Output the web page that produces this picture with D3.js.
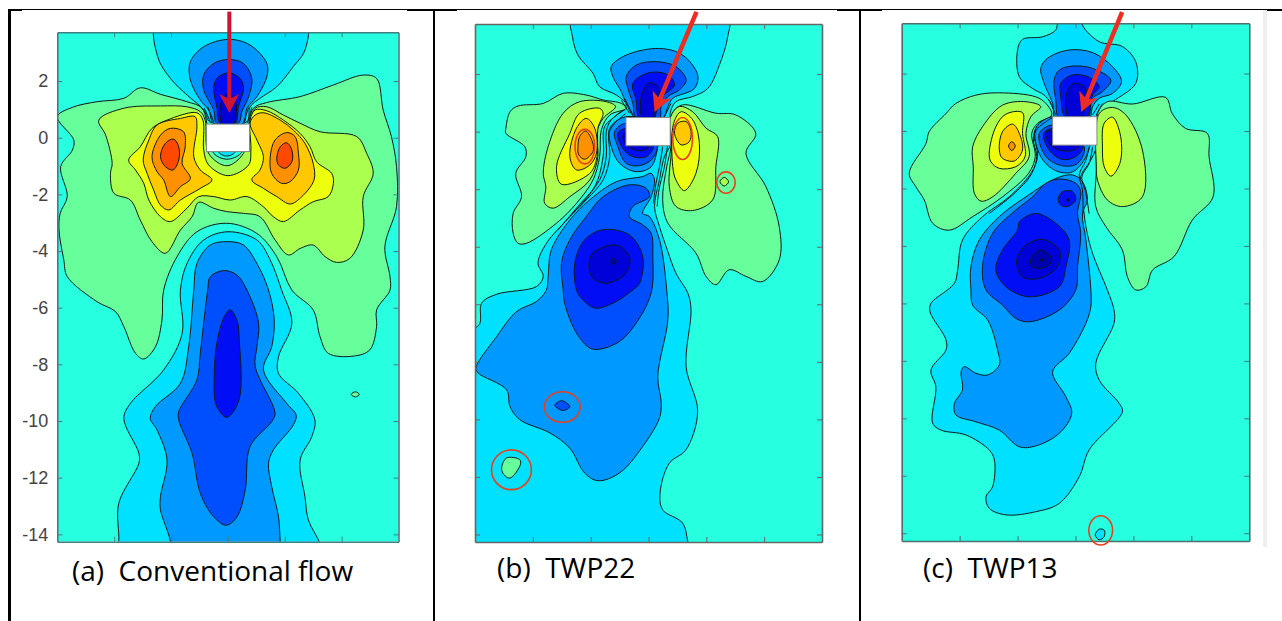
<!DOCTYPE html>
<html>
<head>
<meta charset="utf-8">
<script src="https://d3js.org/d3.v7.min.js"></script>
<style>
 html, body { margin: 0; padding: 0; background: white; }
 svg { display: block; }
 .tick text { font-family: "Liberation Sans", Arial, sans-serif; font-size: 18px; fill: #444; }
 .caption { font-family: "Open Sans", Lato, sans-serif; font-size: 28px; fill: #000; }
</style>
</head>
<body>
<svg width="1282" height="621"></svg>
<script>
// axis ticks, x and y are in the same units on all three panels
var xTicks = [-4, -2, 0, 2, 4];
var yTicks = [2, 0, -2, -4, -6, -8, -10, -12, -14];

// contour levels, low to high
var levels = [-7, -6, -5, -4, -3, -2, -1, 0, 1, 2, 3, 4, 5, 6];

// each entry: [level, outline as [x, y]], painted in order
var contoursA = [
 [1, [[-6,.74],[-5.47,1.07],[-4.6,1.27],[-3.66,1.39],[-3.08,1.76],[-2.37,1.53],[-1.44,1.27],[-.91,1.04],[-.68,.15],[-.5,-.55],[-.04,-.76],[.46,-.55],[.67,.15],[.9,1.04],[1.37,1.24],[2.54,1.45],[3.71,1.86],[4.76,2.21],[5.23,2.09],[5.46,.98],[5.75,.04],[5.93,-1.02],[5.93,-2.44],[5.52,-3.85],[5.7,-4.9],[5.7,-5.38],[5.23,-6.08],[5.23,-6.67],[4.99,-7.49],[4.41,-7.71],[3.53,-7.61],[3.24,-7.02],[3,-6.08],[2.25,-5.38],[1.72,-4.2],[1.02,-3.38],[-.04,-3.02],[-1.09,-3.32],[-1.79,-4.2],[-2.26,-5.38],[-2.32,-6.44],[-2.55,-7.38],[-2.96,-7.81],[-3.25,-7.61],[-3.66,-6.67],[-3.95,-6.14],[-4.6,-5.79],[-5.65,-4.9],[-5.77,-4.32],[-5.94,-3.26],[-5.9,-2.67],[-5.65,-2.08],[-5.88,-1.02],[-5.47,-.44],[-5.42,-.08]]],
 [2, [[-4.54,.62],[-3.66,1.04],[-2.37,1.12],[-1.44,1.09],[-.97,.92],[-.8,.62],[-.68,-.55],[-.04,-.99],[.55,-.55],[.81,.62],[.96,1.04],[1.37,1.09],[1.95,.8],[2.54,.51],[3.24,.21],[4.53,.04],[4.88,-.55],[5.11,-1.26],[4.76,-2.08],[4.76,-3.26],[4.29,-4.26],[3.82,-4.4],[3.42,-4.2],[3,-3.79],[2.54,-3.91],[2.13,-4.14],[1.66,-3.61],[1.13,-2.79],[.55,-2.67],[-.04,-2.61],[-.5,-2.49],[-1.03,-2.28],[-1.26,-2.79],[-1.67,-3.26],[-2.2,-4.08],[-2.67,-3.67],[-3.08,-2.91],[-3.43,-2.2],[-4.01,-1.96],[-4.13,-1.26],[-4.07,-.91],[-4.3,.09]]],
 [3, [[-3.49,-.79],[-3.08,-.32],[-2.67,.33],[-2.14,.62],[-1.09,.88],[-.88,.62],[-.85,-.44],[-.68,-.96],[0,-1.34],[.73,-.96],[.81,-.44],[.78,.62],[.96,.98],[1.37,.95],[1.95,.62],[2.54,.15],[2.89,-.32],[3.12,-.85],[3.65,-1.26],[3.71,-1.61],[3.53,-2.08],[3,-2.26],[2.54,-2.55],[1.95,-2.96],[1.6,-2.79],[1.25,-2.44],[.67,-2.08],[.08,-2.2],[-.5,-2.08],[-1.03,-2.08],[-1.44,-2.49],[-2.02,-2.96],[-2.37,-2.79],[-2.78,-2.2],[-2.96,-1.61],[-3.25,-1.14]]],
 [4, [[-2.98,-.79],[-2.78,-.08],[-2.49,.45],[-1.67,.68],[-1.15,.74],[-1.09,.39],[-1.2,-.67],[-.97,-1.14],[-.56,-1.49],[-.97,-1.79],[-1.67,-2.2],[-2.08,-2.55],[-2.37,-2.38],[-2.61,-1.85],[-2.84,-1.26]]],
 [4, [[.96,.8],[1.25,.88],[1.84,.62],[2.3,.27],[2.71,-.2],[3,-.91],[3.03,-1.49],[2.6,-2.08],[2.19,-2.34],[1.72,-2.08],[1.25,-1.79],[.84,-1.49],[1.13,-1.14],[1.25,-.67],[1.02,-.08],[.78,.51]]],
 [5, [[-2.67,-.67],[-2.37,.09],[-2.02,.33],[-1.56,.21],[-1.5,-.32],[-1.61,-.91],[-1.32,-1.44],[-1.67,-1.73],[-2.02,-2.08],[-2.26,-1.49],[-2.49,-1.2]]],
 [5, [[1.49,-.67],[1.66,-.08],[2.07,.18],[2.36,.04],[2.48,-.55],[2.48,-1.14],[2.19,-1.55],[1.89,-1.61],[1.54,-1.26]]],
 [6, [[-2.37,-.67],[-2.2,-.2],[-1.91,-.05],[-1.73,-.32],[-1.73,-.79],[-1.93,-1.14],[-2.2,-1.02]]],
 [6, [[1.72,-.73],[1.84,-.32],[2.07,-.18],[2.25,-.44],[2.25,-.85],[2.01,-1.08],[1.78,-.96]]],
 [-1, [[-.33,-.49],[-.04,-.65],[.26,-.49],[-.04,-.08]]],
 // wake above the block
 [-1, [[-2.47,4.15],[-2.47,2.86],[-2.02,2.09],[-1.44,1.51],[-.85,.98],[-.64,.56],[.67,.56],[.78,1.09],[1.13,1.39],[1.72,1.8],[2.3,2.51],[2.71,3.09],[2.71,4.15]]],
 [-2, [[.02,3.47],[.78,3.27],[1.37,2.62],[1.37,2.15],[1.02,1.45],[.67,1.04],[.55,.51],[-.5,.51],[-.68,.98],[-.97,1.33],[-1.32,2.04],[-1.32,2.68],[-.85,3.21]]],
 [-3, [[.02,2.76],[.55,2.62],[.84,2.09],[.73,1.45],[.49,.92],[.37,.51],[-.39,.51],[-.5,.98],[-.85,1.68],[-.85,2.21],[-.5,2.62]]],
 [-4, [[.02,2.29],[.43,2.09],[.55,1.74],[.37,1.09],[.26,.51],[-.27,.51],[-.39,1.09],[-.5,1.74],[-.39,2.09]]],
 [-5, [[.02,1.56],[.26,1.33],[.2,.51],[-.21,.51],[-.21,1.33]]],
 // long plume below
 [-1, [[0,-3.32],[1.02,-3.61],[1.49,-4.32],[1.89,-5.38],[2.25,-6.55],[1.78,-7.73],[1.78,-8.32],[2.48,-9.02],[3.06,-9.96],[2.95,-10.55],[2.54,-11.38],[2.71,-12.67],[2.83,-13.49],[3.24,-14.32],[3.36,-14.8],[-3.95,-14.8],[-3.84,-14.26],[-3.84,-12.91],[-3.13,-11.49],[-3.13,-11.14],[-3.66,-9.91],[-3.43,-9.38],[-2.26,-8.2],[-1.61,-6.91],[-1.67,-5.38],[-1.44,-4.44],[-.85,-3.61]]],
 [-2, [[0,-3.67],[.55,-3.79],[1.02,-4.44],[1.43,-5.38],[1.63,-6.44],[1.54,-7.38],[1.25,-8.2],[2.07,-9.38],[2.4,-9.79],[2.3,-10.14],[1.6,-11.02],[1.43,-11.49],[1.54,-12.31],[1.78,-13.38],[1.84,-14.26],[1.89,-14.9],[-2.02,-14.9],[-2.02,-14.26],[-2.37,-13.14],[-2.37,-12.67],[-2.14,-11.38],[-2.49,-10.32],[-2.73,-9.91],[-2.55,-9.49],[-1.67,-8.67],[-1.38,-7.38],[-1.2,-5.38],[-1.09,-4.44],[-.62,-3.79]]],
 [-3, [[-.15,-4.69],[.32,-4.85],[.67,-5.38],[1.08,-6.55],[1.02,-7.38],[.96,-8.08],[1.66,-9.73],[1.54,-10.02],[.78,-10.9],[.61,-12.43],[.32,-13.38],[-.06,-13.68],[-.5,-13.38],[-.97,-12.55],[-1.26,-11.14],[-1.73,-9.96],[-1.73,-9.67],[-1.09,-8.55],[-.97,-7.61],[-.71,-5.38],[-.62,-4.91]]],
 [-4, [[.08,-6.08],[.32,-6.44],[.4,-7.14],[.39,-9.26],[-.04,-9.87],[-.41,-9.44],[-.48,-8.44],[-.39,-7.26],[-.13,-6.32]]],
 [1, [[4.34,-9.06],[4.48,-8.97],[4.62,-9.06],[4.48,-9.15]]]
];

var contoursB = [
 [-1, [[-2.63,3.99],[-2.63,3.3],[-2.44,2.66],[-1.92,2.03],[-1.69,1.56],[-1.11,1.27],[-.77,.93],[-1.17,.52],[-1.52,.17],[-1.57,-.87],[-1.86,-1.91],[-2.72,-2.95],[-3.53,-3.88],[-3.82,-4.57],[-3.64,-5.03],[-3.87,-5.38],[-5.25,-5.65],[-5.77,-5.96],[-5.83,-6.66],[-6.11,-7],[-6.2,-15],[1.53,-15],[1.36,-14.24],[1.18,-13.6],[.49,-13.14],[.4,-12.56],[.72,-11.52],[1.3,-11.05],[1.7,-9.72],[1.3,-8.16],[1.47,-6.19],[1.36,-5.61],[.95,-4.92],[.61,-3.99],[.38,-3.3],[.21,-2.6],[.38,-1.68],[.55,-.87],[.78,-.41],[.75,.64],[.95,1.04],[1.53,1.22],[2.05,1.5],[2.45,2.31],[2.74,3.3],[2.74,3.99]]],
 // left lobe
 [1, [[-4.93,.12],[-4.79,.69],[-4.51,.89],[-3.64,.98],[-2.95,1.33],[-2.15,1.27],[-1.57,1.1],[-.94,.98],[-.77,.81],[-1.34,.58],[-1.63,.06],[-1.69,-.87],[-1.92,-1.68],[-2.49,-2.49],[-3.18,-3.18],[-4.22,-3.88],[-4.51,-3.88],[-4.68,-3.53],[-4.68,-2.84],[-4.39,-2.26],[-4.59,-1.45],[-4.24,-.87],[-4.28,-.52],[-4.93,-.06]]],
 [2, [[-3.64,-1.45],[-3.47,-.52],[-2.95,.64],[-2.38,1.04],[-1.46,1.04],[-1.14,.87],[-1.57,.46],[-1.8,-.06],[-1.75,-.87],[-2.03,-1.68],[-2.72,-2.26],[-3.3,-2.66],[-3.59,-2.49],[-3.55,-1.91]]],
 [3, [[-3.18,-1.22],[-2.72,-.06],[-2.38,.64],[-1.69,.81],[-1.57,.64],[-1.75,.12],[-1.78,-.87],[-2.03,-1.45],[-3.01,-1.83]]],
 [4, [[-2.72,-.87],[-2.49,.12],[-2.15,.46],[-1.86,.12],[-1.8,-.75],[-2.03,-1.16],[-2.49,-1.33]]],
 [5, [[-2.44,-.52],[-2.38,-.17],[-2.17,.02],[-1.94,-.35],[-1.92,-.69],[-2.21,-.96],[-2.41,-.81]]],
 // right lobe
 [1, [[.67,-3.18],[.49,-2.37],[.63,-1.22],[.78,-.52],[.82,.64],[1.18,.93],[2.33,.64],[3.02,.58],[3.71,-.06],[3.37,-.75],[4.06,-1.91],[4.52,-3.3],[4.52,-4.46],[3.94,-5.21],[3.37,-5.03],[2.79,-4.8],[2.33,-5.32],[1.99,-5.03],[1.64,-4.22]]],
 [2, [[.72,-1.91],[.8,-.52],[.77,.52],[1.07,.87],[1.53,.69],[1.99,.12],[2.39,-.17],[2.33,-1.22],[2.22,-2.37],[1.53,-2.74],[.95,-2.6]]],
 [3, [[.84,-1.22],[.87,.29],[1.13,.69],[1.53,.41],[1.76,-.41],[1.64,-1.45],[1.24,-2.05],[.95,-1.68]]],
 [4, [[.9,-.06],[1.01,.29],[1.3,.35],[1.47,0],[1.41,-.35],[1.13,-.46]]],
 [2, [[2.47,-1.74],[2.62,-1.59],[2.77,-1.74],[2.62,-1.89]]],
 // above the block
 [-2, [[.38,2.89],[1.18,2.66],[1.7,1.97],[1.59,1.5],[.84,1.16],[.67,.87],[.49,.46],[-.43,.46],[-.77,.98],[-.94,1.39],[-1.23,1.91],[-1.29,2.26],[-.77,2.66]]],
 [-3, [[.26,2.43],[.95,2.26],[1.3,1.79],[1.07,1.45],[.67,1.22],[.44,.87],[.38,.46],[-.43,.46],[-.54,.98],[-.71,1.5],[-.77,1.91],[-.43,2.31]]],
 [-4, [[.03,2.05],[.67,1.97],[.9,1.62],[.49,1.22],[.26,.64],[.2,.46],[-.31,.46],[-.43,1.1],[-.54,1.68]]],
 [-5, [[.03,1.7],[.38,1.5],[.26,1.1],[.15,.46],[-.2,.46],[-.25,1.22]]],
 // behind the block
 [-2, [[-.77,.52],[-1.34,.12],[-1.29,-.52],[-1,-1.1],[-.43,-1.39],[.09,-1.22],[.32,-.52],[.38,.17]]],
 [-3, [[-.77,.29],[-1.17,0],[-1.06,-.52],[-.77,-1.1],[-.31,-1.18],[.15,-.93],[.29,-.41]]],
 [-4, [[-.77,.12],[-1.06,-.06],[-.89,-.58],[-.54,-.87],[-.08,-.87],[.17,-.52],[-.08,-.06]]],
 [-5, [[-.77,0],[-.89,-.17],[-.71,-.52],[-.37,-.66],[-.02,-.58],[-.08,-.17]]],
 // lower plume
 [-2, [[-.2,-1.56],[-1.11,-1.74],[-2.03,-2.37],[-2.72,-3.07],[-3.36,-4.11],[-3.47,-5.03],[-3.53,-5.5],[-3.87,-5.9],[-4.56,-6.25],[-5.25,-7.12],[-5.97,-8.22],[-5.89,-8.39],[-4.91,-8.97],[-4.79,-9.55],[-4.45,-10.01],[-3.41,-10.47],[-2.72,-11],[-2.21,-11.86],[-1.75,-12.13],[-1,-11.86],[-.2,-10.94],[.38,-9.95],[.44,-9.43],[.32,-8.51],[.67,-6.54],[.63,-5.5],[.38,-3.76],[.03,-2.95],[-.2,-2.84],[.09,-2.26],[.21,-1.68],[.09,-1.45]]],
 [-3, [[-2.15,-2.95],[-1.57,-2.26],[-.66,-1.85],[-.08,-1.97],[.03,-2.26],[-.54,-2.6],[-.66,-2.95],[-.2,-3.24],[.09,-3.53],[.15,-4.34],[.09,-5.61],[-.43,-6.66],[-1,-7.29],[-1.69,-7.56],[-2.03,-7.52],[-2.49,-7],[-2.9,-5.96],[-2.95,-5.5],[-3.01,-4.57],[-2.72,-3.76]]],
 [-4, [[-2.55,-4.57],[-2.21,-3.76],[-1.57,-3.41],[-.66,-3.59],[-.2,-4.34],[-.31,-5.27],[-.54,-5.5],[-1.23,-5.96],[-1.86,-6.13],[-2.32,-5.79],[-2.49,-5.5]]],
 [-5, [[-2.06,-4.69],[-1.92,-4.22],[-1.11,-3.94],[-.66,-4.34],[-.77,-4.92],[-1.46,-5.27],[-1.92,-5.09]]],
 [-6, [[-1.33,-4.51],[-1.21,-4.41],[-1.09,-4.51],[-1.21,-4.61]]],
 [-3, [[-3.24,-9.51],[-3.01,-9.35],[-2.72,-9.55],[-2.95,-9.69]]],
 [1, [[-5.08,-11.69],[-4.91,-11.34],[-4.45,-11.4],[-4.43,-11.57],[-4.79,-12.04],[-5,-11.92]]]
];

var contoursC = [
 [-1, [[-.56,3.98],[-.68,3.52],[-1.14,3.28],[-1.83,3.19],[-2,2.82],[-1.94,1.89],[-1.48,1.48],[-1.08,1.25],[-.85,.96],[-.74,.56],[-1.25,.27],[-1.43,-.08],[-1.31,-.89],[-1.54,-1.47],[-2.29,-2.29],[-3.21,-2.98],[-3.9,-3.79],[-4.07,-4.84],[-4.18,-5.3],[-4.99,-6],[-5.02,-6.29],[-4.47,-7.27],[-4.47,-7.62],[-4.99,-8.32],[-4.82,-8.9],[-4.93,-10.17],[-4.64,-10.41],[-3.78,-10.58],[-2.98,-11.1],[-2.8,-11.45],[-2.86,-12.38],[-3.09,-12.73],[-2.98,-13.13],[-2.4,-13.36],[-1.37,-13.25],[-.56,-12.96],[.13,-12.03],[.47,-11.1],[1.62,-9.77],[1.51,-9.48],[.82,-8.67],[.7,-8.09],[1.33,-6.69],[1.33,-6.23],[1.1,-5.53],[.59,-4.26],[.36,-3.33],[.24,-2.29],[.18,-1.59],[.53,-1.01],[.76,-.43],[.76,.61],[1.28,1.02],[2.08,1.66],[2.08,2.41],[1.62,2.94],[.82,3.11],[.24,3.69],[.24,3.98]]],
 // left lobe
 [1, [[-5.74,-1.47],[-5.16,-.43],[-5.05,-.02],[-4.47,.61],[-4.13,.96],[-3.44,1.25],[-2.63,1.33],[-1.37,1.19],[-1.02,.96],[-.82,.56],[-1.31,.27],[-1.51,-.08],[-1.39,-.89],[-1.62,-1.47],[-2.52,-2.29],[-3.55,-2.98],[-4.36,-3.45],[-4.93,-3.21],[-5.22,-2.4],[-5.51,-1.94]]],
 [2, [[-3.55,-.55],[-3.21,.15],[-2.52,.9],[-1.71,1.02],[-1.2,.85],[-1.54,.5],[-1.71,-.08],[-1.6,-.89],[-2.06,-1.47],[-2.86,-2.29],[-3.26,-2.44],[-3.49,-2.17],[-3.53,-1.24]]],
 [3, [[-2.98,-.78],[-2.75,.15],[-2.4,.59],[-1.83,.64],[-1.83,-.08],[-1.74,-.89],[-2.06,-1.24],[-2.63,-1.3],[-2.92,-1.07]]],
 [4, [[-2.63,-.66],[-2.52,-.02],[-2.17,.24],[-1.94,-.08],[-1.83,-.66],[-2.11,-1.04],[-2.52,-.95]]],
 [5, [[-2.31,-.52],[-2.2,-.37],[-2.08,-.52],[-2.2,-.68]]],
 // right lobe
 [1, [[.72,-1.36],[.76,.61],[1.1,1.02],[1.97,.94],[3.11,1.17],[3.34,.61],[3.8,.09],[4.55,-.08],[4.61,-.89],[4.75,-2.29],[4.03,-3.1],[3.4,-4.37],[2.66,-4.84],[2.43,-5.42],[2.08,-5.53],[1.79,-5.07],[1.62,-4.14],[1.05,-3.33],[.7,-2.63]]],
 [2, [[.72,-1.24],[.82,.61],[1.28,.82],[1.74,.56],[2.31,-.66],[2.31,-2.29],[1.62,-2.63],[1.1,-2.4],[.76,-1.71]]],
 [3, [[.93,-.55],[.99,.27],[1.28,.48],[1.56,-.2],[1.53,-1.13],[1.22,-1.57],[.99,-1.24]]],
 // above the block
 [-2, [[-.22,2.82],[.59,2.73],[1.28,2.24],[1.59,1.72],[1.28,1.31],[.82,1.14],[.59,.85],[.47,.44],[-.68,.44],[-.79,.96],[-1.08,1.66],[-1.2,2.18],[-.97,2.53]]],
 [-3, [[-.1,2.26],[.59,2.18],[1.22,1.77],[.93,1.37],[.59,1.14],[.41,.44],[-.56,.44],[-.68,1.08],[-.74,1.77],[-.56,2.12]]],
 [-4, [[-.1,1.95],[.47,1.87],[.82,1.54],[.59,1.25],[.36,.44],[-.33,.44],[-.51,1.19],[-.51,1.66]]],
 [-5, [[-.05,1.66],[.36,1.48],[.36,1.08],[.18,.44],[-.22,.44],[-.31,1.31]]],
 // behind the block
 [-2, [[-.74,.5],[-1.37,.09],[-1.2,-.89],[-.68,-1.38],[-.1,-1.42],[.36,-.89],[.47,-.31]]],
 [-3, [[-.74,.21],[-1.25,-.08],[-1.02,-.89],[-.45,-1.21],[.07,-1.13],[.3,-.55]]],
 [-4, [[-.74,.09],[-1.1,-.08],[-.91,-.66],[-.45,-.99],[.01,-.89],[.26,-.5]]],
 [-5, [[-.74,-.02],[-1.02,-.02],[-.91,-.43],[-.56,-.66],[-.1,-.68],[.13,-.5]]],
 // lower plume
 [-2, [[-.68,-1.65],[-1.71,-2.29],[-2.63,-2.98],[-3.32,-3.79],[-3.61,-4.72],[-3.61,-5.53],[-3.55,-6.06],[-3.03,-6.58],[-2.69,-7.62],[-2.63,-8.14],[-3.03,-8.49],[-3.44,-8.43],[-3.84,-8.2],[-3.95,-8.38],[-3.9,-9.01],[-4.18,-9.48],[-4.13,-9.88],[-3.44,-10.12],[-2.63,-10.41],[-1.94,-10.99],[-1.37,-10.96],[-.56,-10.52],[-.13,-9.83],[-.33,-9.25],[-.79,-8.38],[-.22,-7.74],[.36,-6.69],[.53,-6.11],[.53,-5.53],[.36,-3.79],[.24,-2.87],[.41,-2.4],[.24,-1.76],[-.1,-1.53]]],
 [-3, [[-.56,-1.67],[.01,-1.82],[.18,-2.11],[.07,-2.87],[.18,-3.56],[.07,-4.72],[.01,-5.53],[-.56,-6.23],[-1.6,-6.64],[-2.06,-6.52],[-2.52,-6.06],[-3.09,-5.53],[-3.21,-4.72],[-2.86,-3.56],[-2.06,-2.75],[-1.48,-2.29],[-1.02,-1.82]]],
 [-4, [[-1.94,-3.16],[-1.37,-2.87],[-.68,-3.21],[-.22,-3.79],[-.33,-4.72],[-.56,-5.42],[-1.6,-5.77],[-2.4,-5.42],[-2.75,-4.84],[-2.52,-4.14],[-2,-3.45]]],
 [-5, [[-2.03,-4.49],[-1.71,-3.97],[-1.14,-3.77],[-.56,-4.14],[-.62,-4.72],[-1.25,-5.13],[-1.83,-5.07]]],
 [-6, [[-1.56,-4.49],[-1.2,-4.14],[-.82,-4.43],[-.91,-4.66],[-1.25,-4.78],[-1.48,-4.72]]],
 [-7, [[-1.21,-4.49],[-1.16,-4.44],[-1.11,-4.49],[-1.16,-4.54]]],
 [-4, [[-.6,-2.37],[-.45,-2.11],[-.1,-2.11],[.01,-2.4],[-.28,-2.63],[-.51,-2.58]]],
 [-7, [[-.3,-2.4],[-.25,-2.35],[-.2,-2.4],[-.25,-2.45]]],
 [-1, [[.68,-14.06],[.82,-13.86],[.99,-13.89],[.99,-14.12],[.82,-14.23]]]
];

// tightly packed open isolines beside the block and in the neck
var isolinesA = [
 [[-.83,1.04],[-.62,.56]], [[-.71,1.09],[-.5,.56]],
 [[.84,1.07],[.69,.53]], [[.73,1.07],[.55,.53]]
];
var isolinesB = [
 [[-.83,.75],[-1.29,.41],[-1.46,0],[-1.46,-.87],[-1.69,-1.68],[-2.44,-2.6],[-3.13,-3.41]],
 [[-.77,.64],[-1.17,.29],[-1.37,-.06],[-1.34,-.87],[-1.57,-1.68],[-2.15,-2.37],[-2.72,-2.95]],
 [[.67,-.41],[.55,-1.22],[.36,-2.03],[.3,-2.6]],
 [[.49,-.52],[.38,-1.22],[.26,-1.79],[.17,-2.49]],
 [[-.94,1.1],[-.66,.64]], [[-.83,1.16],[-.54,.58]], [[.78,.98],[.55,.52]]
];
var isolinesC = [
 [[-.79,.47],[-1.31,.09],[-1.46,-.26],[-1.34,-.89],[-1.54,-1.53],[-2.11,-2.17],[-2.98,-2.87]],
 [[.59,-.55],[.47,-1.13],[.22,-1.59],[.36,-2.17],[.47,-2.87]],
 [[.47,-.55],[.36,-1.01],[.13,-1.53],[.24,-2.05],[.26,-2.87]],
 [[-.91,1.08],[-.68,.56]], [[.82,.94],[.59,.56]], [[.93,.96],[.72,.56]]
];

// block in the flow: [x0, x1, y0, y1]
var blockA = [-.75, .76, -.49, .48];
var blockB = [-.78, .75, -.49, .49];
var blockC = [-.79, .74, -.49, .5];

// red arrows: [x from, y from, x tip, y tip]
var arrowA = [.05, 4.45, .05, .87];
var arrowB = [1.66, 4.16, .21, .68];
var arrowC = [1.61, 4.14, .2, .66];

// red marks round the spots: [cx, cy, rx, ry]
var ringsB = [[-2.2,-.52,.34,.6], [1.18,-.24,.34,.73], [2.68,-1.77,.32,.37], [-2.98,-9.57,.62,.53], [-4.74,-11.75,.69,.69]];
var ringsC = [[.87,-13.9,.41,.51]];

var captions = ["(a)  Conventional flow", "(b)  TWP22", "(c)  TWP13"];

var color = d3.scaleOrdinal()
 .domain(levels)
 .range(["#00007a", "#0000b0", "#0000d8", "#0510f5", "#0050ff", "#0099ff", "#00e0ff", "#26ffe0", "#66ff9c", "#aaff50", "#eeff10", "#ffc800", "#ff9000", "#ff4800"]);

var svg = d3.select("svg");

// the table behind the figures
var defs = svg.append("defs");
defs.append("filter").attr("id", "soft").append("feGaussianBlur").attr("stdDeviation", 0.5);

var table = svg.append("g");
table.append("rect").attr("x", 8).attr("y", 9).attr("width", 1274).attr("height", 2).attr("fill", "black");
[[8, 3], [433, 2], [859, 2]].forEach(function(b) {
 table.append("rect").attr("x", b[0]).attr("y", 9).attr("width", b[1]).attr("height", 612).attr("fill", "black");
});
// the pasted pictures cover most of the top rule
[[22, 385], [457, 380], [882, 381]].forEach(function(b) {
 table.append("rect").attr("x", b[0]).attr("y", 10).attr("width", b[1]).attr("height", 8).attr("fill", "white");
});
table.append("rect").attr("x", 1263).attr("y", 10).attr("width", 4).attr("height", 537).attr("fill", "#efefef");

var line = d3.line().curve(d3.curveCatmullRomClosed.alpha(0.5));
var openLine = d3.line().curve(d3.curveCatmullRom.alpha(0.5));

function drawPanel(id, box, contours, isolines, block, arrow, rings, labelled, arrowColor, arrowWidth, frameColor) {
 var x = d3.scaleLinear().domain([-6, 6]).range([box.left, box.right]);
 var y = d3.scaleLinear().domain([box.yTop, box.yBottom]).range([box.top, box.bottom]);

 defs.append("clipPath").attr("id", "clip" + id).append("rect")
  .attr("x", box.left).attr("y", box.top)
  .attr("width", box.right - box.left).attr("height", box.bottom - box.top);

 var plot = svg.append("g").attr("clip-path", "url(#clip" + id + ")").append("g").attr("filter", "url(#soft)");

 plot.append("rect")
  .attr("x", box.left).attr("y", box.top)
  .attr("width", box.right - box.left).attr("height", box.bottom - box.top)
  .attr("fill", color(0));

 plot.selectAll("path.band")
  .data(contours)
  .enter().append("path")
  .attr("class", "band")
  .attr("d", function(d) { return line(d[1].map(function(p) { return [x(p[0]), y(p[1])]; })); })
  .attr("fill", function(d) { return color(d[0]); })
  .attr("stroke", "#0a1a1a")
  .attr("stroke-width", 1);

 plot.selectAll("path.iso")
  .data(isolines)
  .enter().append("path")
  .attr("class", "iso")
  .attr("d", function(d) { return openLine(d.map(function(p) { return [x(p[0]), y(p[1])]; })); })
  .attr("fill", "none")
  .attr("stroke", "#0a1a1a")
  .attr("stroke-width", 1);

 // axes on all four sides, ticks pointing in
 var sides = [
  [d3.axisLeft(y).tickValues(yTicks), box.left, 0, labelled],
  [d3.axisRight(y).tickValues(yTicks), box.right, 0, false],
  [d3.axisBottom(x).tickValues(xTicks), 0, box.bottom, false],
  [d3.axisTop(x).tickValues(xTicks), 0, box.top, false]
 ];
 sides.forEach(function(s) {
  var g = svg.append("g")
   .attr("transform", "translate(" + s[1] + "," + s[2] + ")")
   .call(s[0].tickSizeInner(-5).tickSizeOuter(0).tickPadding(9).tickFormat(function(d) { return String(d); }));
  g.select(".domain").attr("stroke", frameColor).attr("stroke-width", 1.6);
  g.selectAll(".tick line").attr("stroke", frameColor);
  if (!s[3]) g.selectAll(".tick text").remove();
 });

 // white block
 svg.append("rect")
  .attr("x", x(block[0])).attr("y", y(block[3]))
  .attr("width", x(block[1]) - x(block[0])).attr("height", y(block[2]) - y(block[3]))
  .attr("fill", "white").attr("stroke", "#888").attr("stroke-width", 1);

 // arrow shaft and notched head
 var x0 = x(arrow[0]), y0 = y(arrow[1]), x1 = x(arrow[2]), y1 = y(arrow[3]);
 var a = Math.atan2(y1 - y0, x1 - x0);
 var ux = Math.cos(a), uy = Math.sin(a);
 svg.append("line")
  .attr("x1", x0).attr("y1", y0)
  .attr("x2", x1 - ux * 12).attr("y2", y1 - uy * 12)
  .attr("stroke", arrowColor).attr("stroke-width", arrowWidth);
 var head = [
  [x1, y1],
  [x1 - ux * 19 - uy * 10, y1 - uy * 19 + ux * 10],
  [x1 - ux * 14, y1 - uy * 14],
  [x1 - ux * 19 + uy * 10, y1 - uy * 19 - ux * 10]
 ];
 svg.append("polygon")
  .attr("points", head.join(" "))
  .attr("fill", arrowColor);

 svg.selectAll("ellipse.r" + id)
  .data(rings)
  .enter().append("ellipse")
  .attr("class", "r" + id)
  .attr("cx", function(d) { return x(d[0]); })
  .attr("cy", function(d) { return y(d[1]); })
  .attr("rx", function(d) { return x(d[2]) - x(0); })
  .attr("ry", function(d) { return y(0) - y(d[3]); })
  .attr("fill", "none")
  .attr("stroke", "#e8401c")
  .attr("stroke-width", 1.6);
}

drawPanel("a", {left: 57.3, right: 398.5, top: 32.3, bottom: 541.7, yTop: 3.72, yBottom: -14.26}, contoursA, isolinesA, blockA, arrowA, [], true, "#cf1432", 4, "#3f7f7f");
drawPanel("b", {left: 475, right: 822, top: 24, bottom: 542, yTop: 3.74, yBottom: -14.26}, contoursB, isolinesB, blockB, arrowB, ringsB, false, "#ee2c22", 4.5, "#666");
drawPanel("c", {left: 901.7, right: 1249.3, top: 23.3, bottom: 541, yTop: 3.75, yBottom: -14.27}, contoursC, isolinesC, blockC, arrowC, ringsC, false, "#ee2c22", 4.5, "#4f6f6f");

svg.selectAll("text.caption")
 .data(captions)
 .enter().append("text")
 .attr("class", "caption")
 .attr("x", function(d, i) { return [72, 497, 923][i]; })
 .attr("y", function(d, i) { return [581, 578, 578][i]; })
 .style("white-space", "pre")
 .text(function(d) { return d; });
</script>
</body>
</html>
